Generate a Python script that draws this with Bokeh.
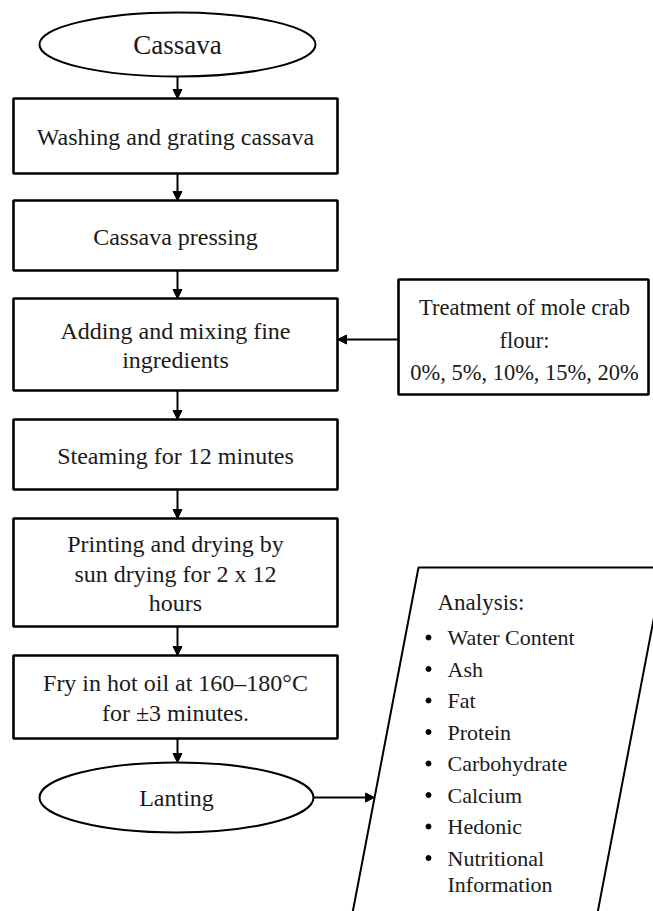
from bokeh.plotting import figure
from bokeh.models import Range1d, Arrow, NormalHead
from bokeh.core.properties import value
from bokeh.embed import file_html
from bokeh.resources import INLINE

# ---- content ----
start_label = "Cassava"
end_label = "Lanting"
step_labels = [
    ["Washing and grating cassava"],
    ["Cassava pressing"],
    ["Adding and mixing fine", "ingredients"],
    ["Steaming for 12 minutes"],
    ["Printing and drying by", "sun drying for 2 x 12", "hours"],
    ["Fry in hot oil at 160\u2013180\u00b0C", "for \u00b13 minutes."],
]
treatment_lines = ["Treatment of mole crab", "flour:", "0%, 5%, 10%, 15%, 20%"]
analysis_title = "Analysis:"
analysis_items = ["Water Content", "Ash", "Fat", "Protein", "Carbohydrate",
                  "Calcium", "Hedonic", "Nutritional", "Information"]
analysis_bullet = [True, True, True, True, True, True, True, True, False]

# ---- layout (reference pixel space) ----
box_left, box_right = 13, 337
box_tops = [98, 200, 298, 419, 518, 655]
box_bottoms = [173, 270, 390, 489, 626, 738]
col_x = 176
start_ell = dict(x=177, y=44, w=276, h=64)
end_ell = dict(x=176, y=797, w=274, h=70)
side_box = dict(l=398, r=648, t=279, b=394)
para_top = 567
para_left_top, para_right_top = 418, 663
para_slope = -0.191
para_bottom = 1000

FONT = value("Liberation Serif")
TXT = "#1a1a1a"

W, H = 653, 911
p = figure(width=W, height=H, output_backend="svg", toolbar_location=None,
           x_axis_type=None, y_axis_type=None, min_border=0,
           x_range=Range1d(0, W), y_range=Range1d(H, 0))
p.outline_line_color = None
p.grid.visible = False
p.background_fill_color = "white"
p.border_fill_color = "white"

def arrow(x0, y0, x1, y1):
    p.add_layout(Arrow(end=NormalHead(size=9, fill_color="black", line_color="black", line_width=1),
                       x_start=x0, y_start=y0, x_end=x1, y_end=y1,
                       line_width=2, line_color="black"))

def lines_text(x, yc, lines, size, spacing, align="center"):
    n = len(lines)
    ys = [yc + (i - (n - 1) / 2) * spacing for i in range(n)]
    p.text(x=[x] * n, y=ys, text=lines, text_font=FONT, text_font_size=f"{size}px",
           text_align=align, text_baseline="middle", text_color=TXT)

# ellipses
p.ellipse(x=[start_ell["x"], end_ell["x"]], y=[start_ell["y"], end_ell["y"]],
          width=[start_ell["w"], end_ell["w"]], height=[start_ell["h"], end_ell["h"]],
          fill_color="white", line_color="black", line_width=2)
lines_text(start_ell["x"], start_ell["y"], [start_label], 27, 30)
lines_text(end_ell["x"], end_ell["y"], [end_label], 24, 30)

# process boxes
p.quad(left=[box_left] * len(box_tops), right=[box_right] * len(box_tops),
       top=box_tops, bottom=box_bottoms, fill_color="white",
       line_color="black", line_width=2.6)
for t, b, lab in zip(box_tops, box_bottoms, step_labels):
    lines_text((box_left + box_right) / 2, (t + b) / 2 + 1, lab, 24, 29.5)

# vertical arrows
prev_bottom = [start_ell["y"] + start_ell["h"] / 2] + box_bottoms
next_top = box_tops + [end_ell["y"] - end_ell["h"] / 2]
for y0, y1 in zip(prev_bottom, next_top):
    arrow(col_x + 1, y0, col_x + 1, y1)

# side treatment box
p.quad(left=[side_box["l"]], right=[side_box["r"]], top=[side_box["t"]],
       bottom=[side_box["b"]], fill_color="white", line_color="black", line_width=2.6)
lines_text((side_box["l"] + side_box["r"]) / 2 + 1, (side_box["t"] + side_box["b"]) / 2 + 3,
           treatment_lines, 22.5, 32.5)
arrow(side_box["l"], 339, box_right, 339)

# analysis parallelogram
h = para_bottom - para_top
p.patch(x=[para_left_top, para_right_top, para_right_top + para_slope * h, para_left_top + para_slope * h],
        y=[para_top, para_top, para_bottom, para_bottom],
        fill_color="white", line_color="black", line_width=2)
arrow(end_ell["x"] + end_ell["w"] / 2, end_ell["y"],
      para_left_top + para_slope * (end_ell["y"] - para_top), end_ell["y"])

p.text(x=[437], y=[602], text=[analysis_title], text_font=FONT, text_font_size="23px",
       text_align="left", text_baseline="middle", text_color=TXT)
item_y = [637 + 31.5 * i if i < 8 else 637 + 31.5 * 7 + 26 for i in range(len(analysis_items))]
p.text(x=[447] * len(analysis_items), y=item_y, text=analysis_items, text_font=FONT,
       text_font_size="22px", text_align="left", text_baseline="middle", text_color=TXT)
bx = [428] * sum(analysis_bullet)
by = [yy for yy, b in zip(item_y, analysis_bullet) if b]
p.scatter(x=bx, y=by, size=5, marker="circle", fill_color="black", line_color="black")

open("out.html", "w").write(file_html(p, INLINE))
